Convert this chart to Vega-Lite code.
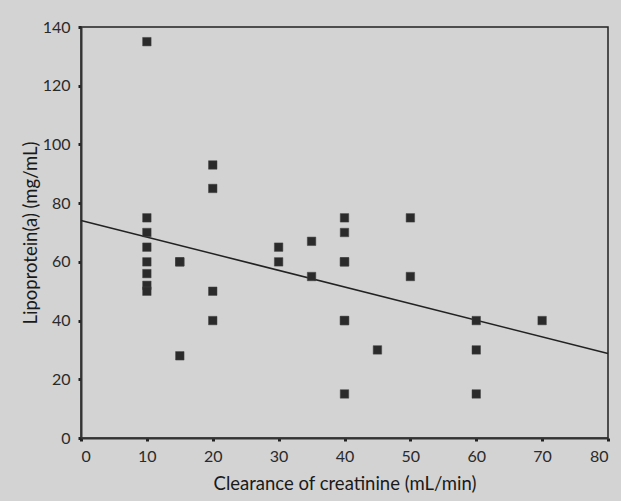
{
  "$schema": "https://vega.github.io/schema/vega-lite/v6.json",
  "autosize": "none",
  "width": 527,
  "height": 411,
  "padding": {"left": 81, "top": 27, "right": 13, "bottom": 63},
  "background": "#d3d3d3",
  "config": {
    "view": {"stroke": "#222222", "strokeWidth": 1.5, "fill": "#d3d3d3"},
    "axis": {
      "domainColor": "#333333",
      "domainWidth": 2,
      "tickColor": "#222222",
      "tickSize": 3,
      "tickWidth": 3,
      "grid": false,
      "labelFont": "Lato",
      "labelFontSize": 16,
      "labelColor": "#2a2a2a",
      "titleFont": "Lato",
      "titleFontSize": 18.5,
      "titleFontWeight": "normal",
      "titleColor": "#1a1a1a"
    }
  },
  "datasets": {
    "pts": [
      {"x": 10, "y": 135}, {"x": 10, "y": 75}, {"x": 10, "y": 70}, {"x": 10, "y": 65},
      {"x": 10, "y": 60}, {"x": 10, "y": 56}, {"x": 10, "y": 52}, {"x": 10, "y": 50},
      {"x": 15, "y": 60}, {"x": 15, "y": 60}, {"x": 15, "y": 28},
      {"x": 20, "y": 93}, {"x": 20, "y": 85}, {"x": 20, "y": 50}, {"x": 20, "y": 40},
      {"x": 30, "y": 65}, {"x": 30, "y": 60},
      {"x": 35, "y": 67}, {"x": 35, "y": 55},
      {"x": 40, "y": 75}, {"x": 40, "y": 70}, {"x": 40, "y": 60}, {"x": 40, "y": 60},
      {"x": 40, "y": 40}, {"x": 40, "y": 40}, {"x": 40, "y": 15},
      {"x": 45, "y": 30},
      {"x": 50, "y": 75}, {"x": 50, "y": 55},
      {"x": 60, "y": 40}, {"x": 60, "y": 30}, {"x": 60, "y": 15},
      {"x": 70, "y": 40}
    ],
    "fit": [
      {"x": 0, "y": 74.1}, {"x": 80, "y": 28.8}
    ]
  },
  "layer": [
    {
      "data": {"name": "fit"},
      "mark": {"type": "line", "color": "#222222", "strokeWidth": 1.5},
      "encoding": {
        "x": {"field": "x", "type": "quantitative"},
        "y": {"field": "y", "type": "quantitative"}
      }
    },
    {
      "data": {"name": "pts"},
      "mark": {"type": "square", "size": 72, "fill": "#2b2b2b", "opacity": 1, "stroke": "#444444", "strokeWidth": 0.5},
      "encoding": {
        "x": {
          "field": "x", "type": "quantitative",
          "scale": {"domain": [0, 80], "nice": false, "zero": false},
          "axis": {"values": [0, 10, 20, 30, 40, 50, 60, 70, 80], "title": "Clearance of creatinine (mL/min)", "labelPadding": 7, "titlePadding": 10}
        },
        "y": {
          "field": "y", "type": "quantitative",
          "scale": {"domain": [0, 140], "nice": false},
          "axis": {"values": [0, 20, 40, 60, 80, 100, 120, 140], "title": "Lipoprotein(a) (mg/mL)", "labelPadding": 8, "titlePadding": 2}
        }
      }
    }
  ]
}
